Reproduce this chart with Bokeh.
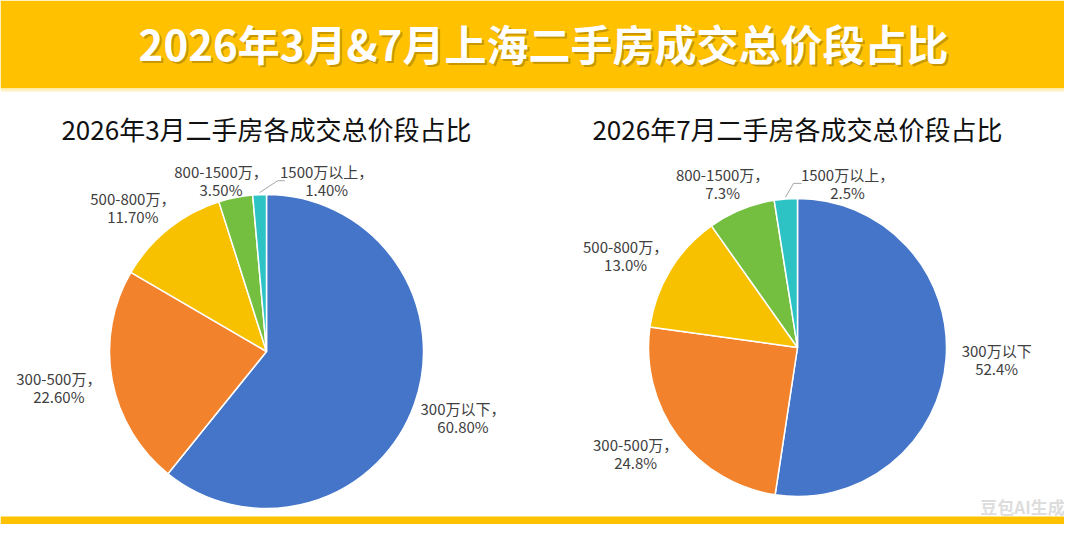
import numpy as np
from bokeh.plotting import figure
from bokeh.models import Range1d
from bokeh.core.properties import value
from bokeh.embed import file_html
from bokeh.resources import INLINE

# ---------------- data ----------------
main_title = "2026年3月&7月上海二手房成交总价段占比"
categories = ["300万以下", "300-500万", "500-800万", "800-1500万", "1500万以上"]

march_title = "2026年3月二手房各成交总价段占比"
march_values = [60.8, 22.6, 11.7, 3.5, 1.4]
march_pct = ["60.80%", "22.60%", "11.70%", "3.50%", "1.40%"]
march_sep = ["，", "，", "，", "，", "，"]

july_title = "2026年7月二手房各成交总价段占比"
july_values = [52.4, 24.8, 13.0, 7.3, 2.5]
july_pct = ["52.4%", "24.8%", "13.0%", "7.3%", "2.5%"]
july_sep = ["", "，", "，", "，", "，"]

colors = ["#4475C8", "#F2832C", "#F7C100", "#74BE40", "#2DC2C4"]
watermark = "豆包AI生成"

# ---------------- layout ----------------
W, H = 1064, 524
FONT = "Noto Sans CJK SC"


def Y(yref):
    return H - yref


p = figure(width=W, height=H, output_backend="svg", toolbar_location=None,
           x_range=Range1d(0, W), y_range=Range1d(0, H),
           min_border=0, x_axis_location=None, y_axis_location=None,
           background_fill_color="white", border_fill_color="white")
p.outline_line_color = None
p.grid.visible = False

# banner and bottom strip
p.quad(left=0, right=W, bottom=Y(88), top=Y(0), fill_color="#FFC100", line_color=None)
p.quad(left=0, right=W, bottom=Y(91), top=Y(88), fill_color="#FFF1C2", line_color=None)
p.quad(left=0, right=W, bottom=Y(H), top=Y(516), fill_color="#FFC100", line_color=None)

# main title with shadow
p.text(x=[545], y=[Y(44)], text=[main_title], text_align="center", text_baseline="middle",
       text_font=value(FONT), text_font_style="bold", text_font_size="42px",
       text_color="#9A7400", text_alpha=0.55)
p.text(x=[543], y=[Y(42)], text=[main_title], text_align="center", text_baseline="middle",
       text_font=value(FONT), text_font_style="bold", text_font_size="42px",
       text_color="white")


def draw_pie(cx, cy, r, title, vals, pct, sep, nudges, leader):
    vals = np.array(vals, dtype=float)
    frac = vals / vals.sum()
    cum = np.cumsum(frac)
    prev = cum - frac
    starts = np.pi / 2 - 2 * np.pi * prev
    ends = np.pi / 2 - 2 * np.pi * cum
    p.wedge(x=cx, y=Y(cy), radius=r, start_angle=starts, end_angle=ends,
            direction="clock", fill_color=colors, line_color="white", line_width=1.5)
    # title
    p.text(x=[cx], y=[Y(128)], text=[title], text_align="center", text_baseline="middle",
           text_font=value(FONT), text_font_size="26px", text_color="#111111")
    # labels
    mid = 2 * np.pi * (prev + frac / 2)
    R = 1.28 * r
    lx = cx + R * np.sin(mid) + np.array([n[0] for n in nudges])
    ly = cy - R * np.cos(mid) + np.array([n[1] for n in nudges])
    line1 = [c + s for c, s in zip(categories, sep)]
    p.text(x=lx, y=[Y(v - 9) for v in ly], text=line1, text_align="center",
           text_baseline="middle", text_font=value(FONT), text_font_size="15px",
           text_color="#404040")
    p.text(x=lx, y=[Y(v + 9) for v in ly], text=pct, text_align="center",
           text_baseline="middle", text_font=value(FONT), text_font_size="15px",
           text_color="#404040")
    # leader line for the smallest slice
    i = len(vals) - 1
    sx = cx + (r + 2) * np.sin(mid[i])
    sy = cy - (r + 2) * np.cos(mid[i])
    ex, ey = lx[i] - leader[0], ly[i]
    p.line(x=[sx, ex, ex + leader[1]], y=[Y(sy), Y(ey), Y(ey)],
           line_color="#A6A6A6", line_width=1)


draw_pie(266, 351, 157, march_title, march_values, march_pct, march_sep,
         [(7, -1), (-10, 0), (-8, 13), (-6, 26), (69, 30)], (49, 7))
draw_pie(797, 347, 149, july_title, july_values, july_pct, july_sep,
         [(9, -2), (-9, -8), (-9, 7), (-3, 13), (65, 26)], (54, 8))

# watermark
p.text(x=[1022], y=[Y(506)], text=[watermark], text_align="center", text_baseline="middle",
       text_font=value(FONT), text_font_style="bold", text_font_size="17px",
       text_color="#D9D9D9", text_alpha=0.9)

open("out.html", "w").write(file_html(p, INLINE))
